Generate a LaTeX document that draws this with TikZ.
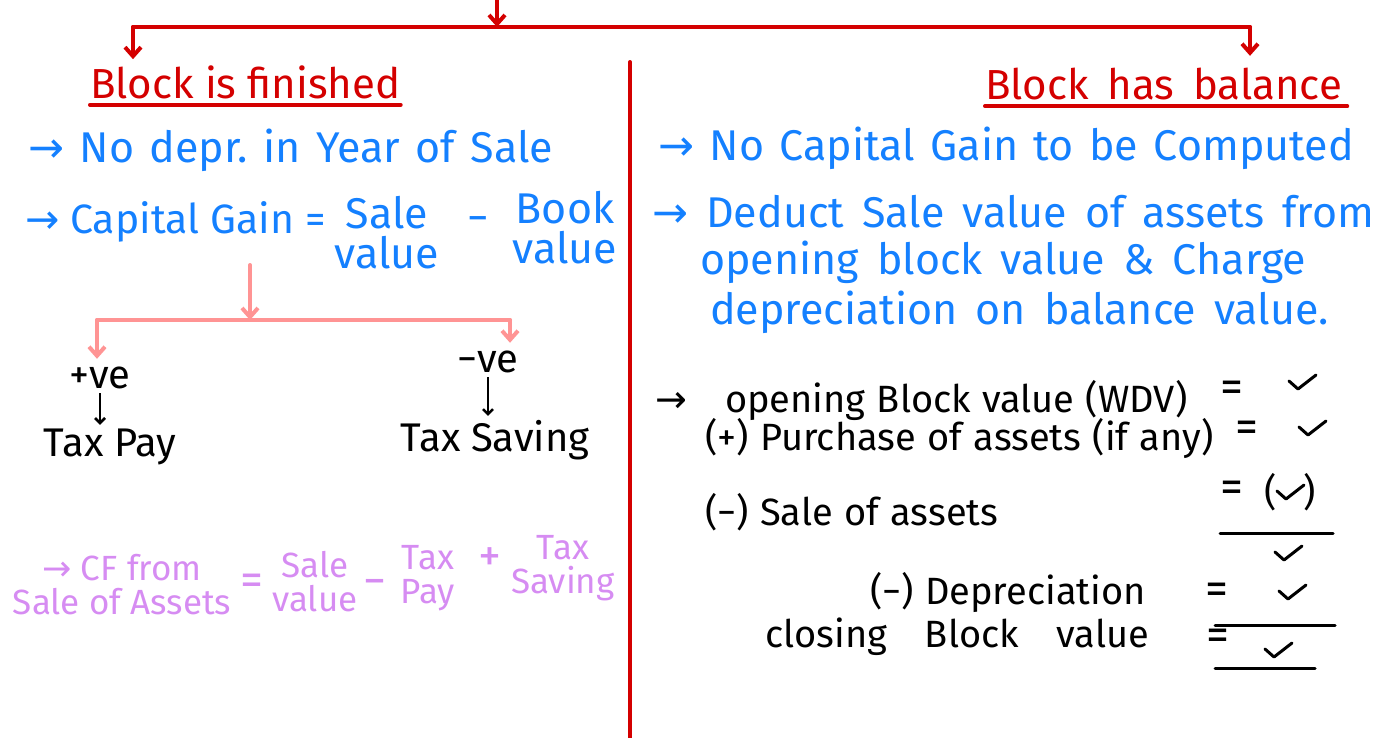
\documentclass[tikz,border=0pt]{standalone}
\usepackage{fontspec}
\setmainfont{Fira Sans}
\newfontfamily\arrowfont{DejaVu Sans}
\newcommand\arr{{\arrowfont →}}
\newcommand\widesp[1]{\spaceskip #1em\relax}
\usetikzlibrary{arrows.meta,positioning}

\definecolor{inkred}{HTML}{D40000}
\definecolor{inkblue}{HTML}{1480FF}
\definecolor{inkpink}{HTML}{FF9494}
\definecolor{inkviolet}{HTML}{D68CF2}

\tikzset{
  tick/.pic={\draw[line width=3pt,line cap=round,line join=round] (-13,-1) -- (-4,7) -- (14,-7);}
}

\begin{document}
\begin{tikzpicture}[x=1pt,y=-1pt,>={Straight Barb[length=9pt,width=16pt]},
    every node/.style={inner sep=0pt},
    hand/.style={font=\fontsize{40}{38}\selectfont},
    blue/.style={font=\fontsize{43}{40}\selectfont\widesp{0.36},text=inkblue},
    calc/.style={font=\fontsize{38}{40}\selectfont\widesp{0.30},text=black},
    bigeq/.style={font=\fontsize{46}{46}\selectfont},
    cf/.style={font=\fontsize{35}{34}\selectfont,text=inkviolet,align=center},
    title/.style={font=\fontsize{42}{44}\selectfont,text=inkred},
    redline/.style={draw=inkred,line width=4pt,line cap=round},
    pinkline/.style={draw=inkpink,line width=4pt,line cap=round},
    rule/.style={draw=black,line width=3pt,line cap=round}]
  \useasboundingbox (0,0) rectangle (1390,737);

  % split at the top
  \coordinate (root) at (497,0);
  \coordinate (fork) at (497,27);
  \coordinate (forkL) at (133,27);
  \coordinate (forkR) at (1250,27);
  \node[title,anchor=west] (finished) at (90,82) {Block is finished};
  \node[title,anchor=west,font=\fontsize{42}{44}\selectfont\widesp{0.45}] (balance) at (985,84) {Block has balance};
  \draw[redline,->] (root) -- (fork);
  \draw[redline] (forkL) -- (forkR);
  \draw[redline,->,shorten >=6pt] (forkL) -- (forkL |- finished.north);
  \draw[redline,->,shorten >=12pt] (forkR) -- (forkR |- balance.north);
  \draw[redline] ([yshift=-6pt]finished.south west) -- ([yshift=-6pt]finished.south east);
  \draw[redline] ([yshift=-6pt]balance.south west) -- ([yshift=-6pt,xshift=5pt]balance.south east);
  \draw[redline] (630,62) -- (630,740);

  % left side
  \node[blue,anchor=west] (nodep) at (28,150) {\arr\ No depr.\ in Year of Sale};
  \node[blue,anchor=west,font=\fontsize{41}{40}\selectfont] (cgain) at (25,222) {\arr\ Capital Gain =};
  \node[blue,align=center] (cgsale) at (387,233) {Sale\\value};
  \node[blue] (cgminus) at (478,225) {−};
  \node[blue,align=center] (cgbook) at (565,228) {Book\\value};

  \coordinate (cgdrop) at (250,265);
  \coordinate (pinkmid) at (250,320);
  \coordinate (pinkL) at (97,320);
  \coordinate (pinkR) at (510,320);
  \node[hand] (pos) at (100,378) {+ve};
  \node[hand] (taxpay) at (110,447) {Tax Pay};
  \node[hand] (neg) at (488,362) {−ve};
  \node[hand] (taxsave) at (495,440) {Tax Saving};
  \draw[pinkline,->] (cgdrop) -- (pinkmid);
  \draw[pinkline] (pinkL) -- (pinkR);
  \draw[pinkline,->,shorten >=8pt] (pinkL) -- (pinkL |- pos.north);
  \draw[pinkline,->,shorten >=8pt] (pinkR) -- (pinkR |- neg.north);
  \draw[line width=2.5pt,->,>={Straight Barb[length=5pt,width=10pt]},shorten <=4pt,shorten >=4pt] (pos.south) -- (pos.south |- taxpay.north);
  \draw[line width=2.5pt,->,>={Straight Barb[length=5pt,width=10pt]},shorten <=4pt,shorten >=4pt] (neg.south) -- (neg.south |- taxsave.north);

  \node[cf] (cfleft) at (122,585) {\arr\ CF from\\Sale of Assets};
  \node[cf,bigeq] (cfeq) at (252,585) {=};
  \node[cf] (cfsale) at (315,582) {Sale\\value};
  \node[cf,bigeq] (cfminus) at (375,588) {−};
  \node[cf] (cftax) at (428,578) {Tax\\Pay};
  \node[cf,bigeq] (cfplus) at (490,560) {+};
  \node[cf] (cfsave) at (563,568) {Tax\\Saving};

  % right side
  \node[blue,anchor=west] (nocg) at (658,148) {\arr\ No Capital Gain to be Computed};
  \node[blue,anchor=west,font=\fontsize{43}{40}\selectfont\widesp{0.42}] (ded1) at (652,212) {\arr\ Deduct Sale value of assets from};
  \node[blue,anchor=west,font=\fontsize{43}{40}\selectfont\widesp{0.42}] (ded2) at (700,262) {opening block value \& Charge};
  \node[blue,anchor=west,font=\fontsize{43}{40}\selectfont\widesp{0.42}] (ded3) at (710,312) {depreciation on balance value.};

  \node[calc,anchor=west] (opn) at (655,400) {\arr\quad opening Block value (WDV)};
  \node[calc,bigeq] (opneq) at (1232,392) {=};
  \pic at (1302,382) {tick};
  \node[calc,anchor=west] (pur) at (705,438) {(+) Purchase of assets (if any)};
  \node[calc,bigeq] (pureq) at (1247,432) {=};
  \pic at (1312,428) {tick};
  \node[calc,anchor=west] (sal) at (705,512) {(−) Sale of assets};
  \node[calc,bigeq] (saleq) at (1232,492) {=};
  \node[calc] (salval) at (1290,492) {(\hspace{26pt})};
  \pic at (salval.center) {tick};
  \draw[rule] (1220,533) -- (1333,533);
  \pic at (1288,553) {tick};
  \node[calc,anchor=west] (dep) at (870,592) {(−) Depreciation};
  \node[calc,bigeq] (depeq) at (1217,594) {=};
  \pic at (1292,592) {tick};
  \draw[rule] (1215,625) -- (1335,625);
  \node[calc,anchor=west,font=\fontsize{38}{40}\selectfont\widesp{1.0}] (cls) at (765,637) {closing Block value};
  \node[calc,bigeq] (clseq) at (1218,640) {=};
  \pic at (1278,650) {tick};
  \draw[rule] (1215,668) -- (1315,668);
\end{tikzpicture}
\end{document}
